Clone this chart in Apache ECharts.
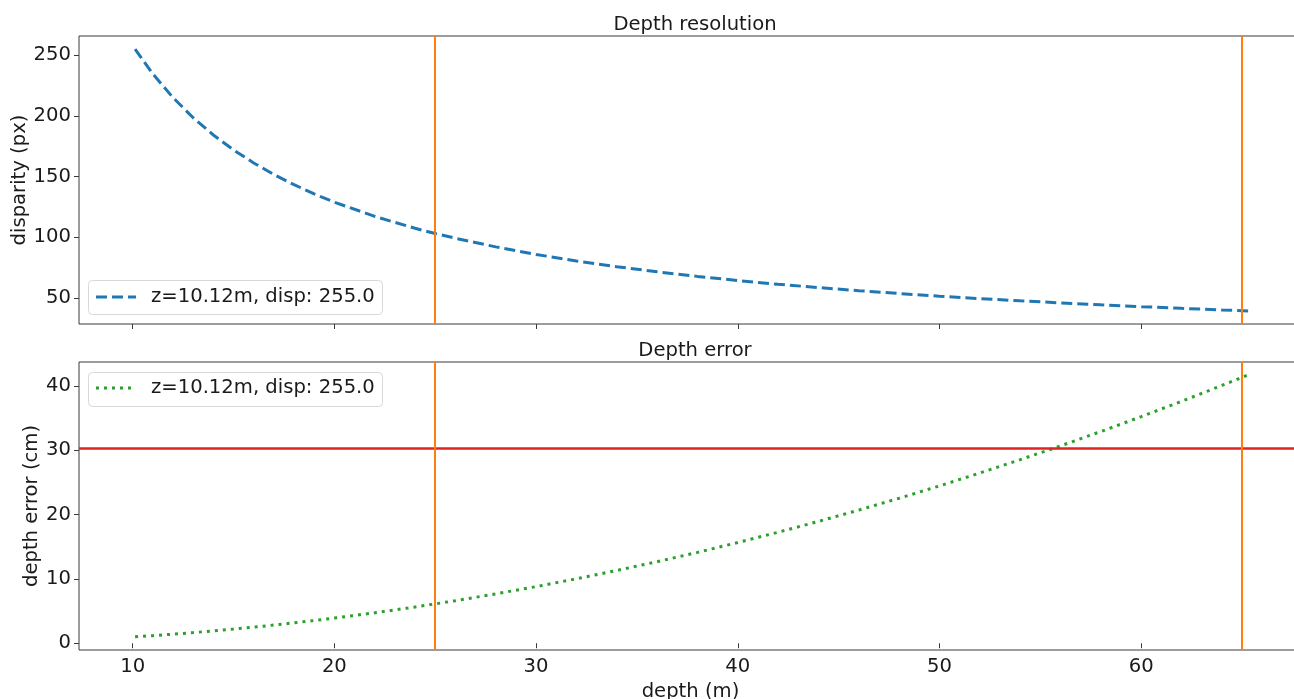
<!DOCTYPE html>
<html>
<head>
<meta charset="utf-8">
<script src="https://cdn.jsdelivr.net/npm/echarts@6/dist/echarts.min.js"></script>
<style>html,body{margin:0;padding:0;background:#fff}#c{width:1294px;height:699px}</style>
</head>
<body>
<div id="c"></div>
<script>
// depth (m)
var depths = [10.12, 11, 12, 13, 14, 15, 16, 17, 18, 19, 20, 22, 24, 25, 26, 28, 30, 32, 34, 36, 38, 40, 42, 44, 46, 48, 50, 52, 54, 56, 58, 60, 62, 64, 65.3];
// disparity (px)
var disparity = [255.0, 234.6, 215.1, 198.5, 184.3, 172.0, 161.3, 151.8, 143.4, 135.8, 129.0, 117.3, 107.5, 103.2, 99.3, 92.2, 86.0, 80.6, 75.9, 71.7, 67.9, 64.5, 61.4, 58.7, 56.1, 53.8, 51.6, 49.6, 47.8, 46.1, 44.5, 43.0, 41.6, 40.3, 39.5];
// depth error (cm)
var depthError = [1.00, 1.18, 1.41, 1.65, 1.92, 2.20, 2.50, 2.83, 3.17, 3.53, 3.91, 4.73, 5.63, 6.11, 6.61, 7.67, 8.80, 10.01, 11.31, 12.67, 14.12, 15.65, 17.25, 18.93, 20.69, 22.53, 24.45, 26.45, 28.52, 30.67, 32.90, 35.21, 37.59, 40.06, 41.70];
var xTicks = [10, 20, 30, 40, 50, 60];
var yTicksTop = [50, 100, 150, 200, 250];
var yTicksBottom = [0, 10, 20, 30, 40];
var verticalMarks = [25, 65];
var errorLimit = 30.3;
var legendLabel = 'z=10.12m, disp: 255.0';
var titles = ['Depth resolution', 'Depth error'];

var FONT = 'DejaVu Sans';
var FS = 19.6;
var AX = '#3a3a3a';
var TXT = '#1a1a1a';

function pairs(xs, ys) { return xs.map(function (x, i) { return [x, ys[i]]; }); }

function xAxisCfg(idx, showLabels) {
  return {
    type: 'value', gridIndex: idx, min: 7.34, max: 67.97,
    axisLine: { show: false },
    splitLine: { show: false },
    axisTick: { show: true, customValues: xTicks, length: 5, lineStyle: { color: AX, width: 1 } },
    axisLabel: { show: showLabels, customValues: xTicks, fontFamily: FONT, fontSize: FS, color: TXT, margin: 7 },
    name: showLabels ? 'depth (m)' : '', nameLocation: 'middle', nameGap: 32,
    nameTextStyle: { fontFamily: FONT, fontSize: FS, color: TXT }
  };
}
function yAxisCfg(idx, min, max, ticks, name, gap) {
  return {
    type: 'value', gridIndex: idx, min: min, max: max,
    axisLine: { show: false },
    splitLine: { show: false },
    axisTick: { show: true, customValues: ticks, length: 5, lineStyle: { color: AX, width: 1 } },
    axisLabel: { customValues: ticks, fontFamily: FONT, fontSize: FS, color: TXT, margin: 8 },
    name: name, nameLocation: 'middle', nameGap: gap, nameMoveOverlap: false,
    nameTextStyle: { fontFamily: FONT, fontSize: FS, color: TXT }
  };
}

var chart = echarts.init(document.getElementById('c'));
chart.setOption({
  animation: false,
  backgroundColor: '#fff',
  title: [
    { text: titles[0], left: 690, top: 10, textAlign: 'center', textStyle: { fontFamily: FONT, fontSize: FS, fontWeight: 'normal', color: TXT } },
    { text: titles[1], left: 690, top: 336, textAlign: 'center', textStyle: { fontFamily: FONT, fontSize: FS, fontWeight: 'normal', color: TXT } }
  ],
  grid: [
    { left: 79, top: 36, width: 1223, height: 288, containLabel: false, outerBoundsMode: 'none', show: true, borderColor: AX, borderWidth: 1, backgroundColor: 'transparent' },
    { left: 79, top: 362, width: 1223, height: 288, containLabel: false, outerBoundsMode: 'none', show: true, borderColor: AX, borderWidth: 1, backgroundColor: 'transparent' }
  ],
  xAxis: [xAxisCfg(0, false), xAxisCfg(1, true)],
  yAxis: [
    yAxisCfg(0, 28.7, 265.8, yTicksTop, 'disparity (px)', 49),
    yAxisCfg(1, -1.05, 43.7, yTicksBottom, 'depth error (cm)', 37)
  ],
  series: [
    {
      type: 'line', name: legendLabel, xAxisIndex: 0, yAxisIndex: 0,
      data: pairs(depths, disparity), showSymbol: false, smooth: false, z: 3,
      lineStyle: { color: '#1f77b4', width: 3, type: [11, 5] }
    },
    {
      type: 'line', name: legendLabel + ' ', xAxisIndex: 1, yAxisIndex: 1,
      data: pairs(depths, depthError), showSymbol: false, smooth: false, z: 3,
      lineStyle: { color: '#2ca02c', width: 3, type: [3, 5] },
      markLine: {
        silent: true, symbol: 'none', label: { show: false }, animation: false,
        lineStyle: { color: '#e02424', width: 2.5, type: 'solid' },
        data: [{ yAxis: errorLimit }]
      }
    },
    {
      type: 'line', name: 'v0', xAxisIndex: 0, yAxisIndex: 0, data: [], z: 4,
      markLine: {
        silent: true, symbol: 'none', label: { show: false }, animation: false,
        lineStyle: { color: '#ff7f0e', width: 2, type: 'solid' },
        data: verticalMarks.map(function (v) { return { xAxis: v }; })
      }
    },
    {
      type: 'line', name: 'v1', xAxisIndex: 1, yAxisIndex: 1, data: [], z: 4,
      markLine: {
        silent: true, symbol: 'none', label: { show: false }, animation: false,
        lineStyle: { color: '#ff7f0e', width: 2, type: 'solid' },
        data: verticalMarks.map(function (v) { return { xAxis: v }; })
      }
    }
  ],
  graphic: [
    { type: 'rect', shape: { x: 88.5, y: 280.5, width: 294, height: 34, r: 4 }, style: { fill: 'rgba(255,255,255,0.8)', stroke: '#d8d8d8', lineWidth: 1 }, z: 10 },
    { type: 'line', shape: { x1: 96, y1: 297, x2: 136, y2: 297 }, style: { stroke: '#1f77b4', lineWidth: 3, lineDash: [11, 5] }, z: 11 },
    { type: 'text', x: 151, y: 297, style: { text: legendLabel, font: FS + 'px "' + FONT + '"', fill: TXT, verticalAlign: 'middle' }, z: 11 },
    { type: 'rect', shape: { x: 88.5, y: 372.5, width: 294, height: 34, r: 4 }, style: { fill: 'rgba(255,255,255,0.8)', stroke: '#d8d8d8', lineWidth: 1 }, z: 10 },
    { type: 'line', shape: { x1: 96, y1: 388, x2: 136, y2: 388 }, style: { stroke: '#2ca02c', lineWidth: 3, lineDash: [3, 5] }, z: 11 },
    { type: 'text', x: 151, y: 388, style: { text: legendLabel, font: FS + 'px "' + FONT + '"', fill: TXT, verticalAlign: 'middle' }, z: 11 }
  ]
});
</script>
</body>
</html>
